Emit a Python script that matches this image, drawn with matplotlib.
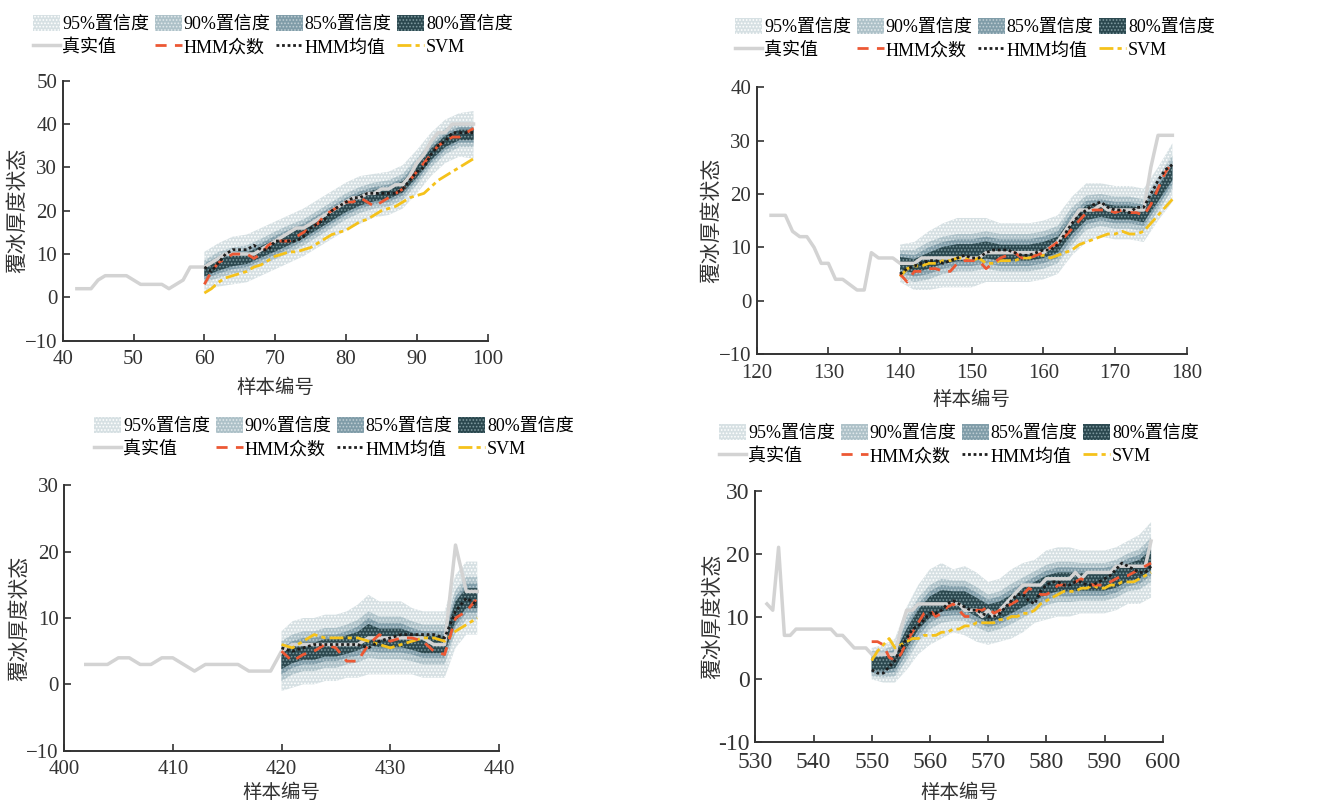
import numpy as np
import matplotlib
matplotlib.use("Agg")
import matplotlib.pyplot as plt
from matplotlib.ticker import MultipleLocator, FuncFormatter

plt.rcParams['font.family'] = ['Liberation Serif', 'Noto Sans CJK SC']
plt.rcParams['hatch.linewidth'] = 0.8

W, H = 1317, 805

# ---------------- panel 1 ----------------
p1_true_x = np.arange(42, 99)
p1_true = [2, 2, 2, 4, 5, 5, 5, 5, 4, 3, 3, 3, 3, 2, 3, 4, 7, 7, 7, 8, 9, 10, 10, 10, 10, 10, 11, 12,
           13, 14, 15, 16, 16, 17, 18, 19, 20, 21, 22, 23, 23, 24, 24, 25, 25, 26, 26, 28, 31, 33, 36,
           38, 38, 40, 40, 40, 40]
p1_x = np.arange(60, 99)
p1_mode = [3, 6, 8, 9, 10, 10, 10, 9, 10, 12, 13, 13, 13, 14, 15, 16, 17, 19, 20, 21, 22, 22, 23, 22,
           21, 22, 23, 24, 25, 27, 29, 31, 33, 35, 36, 37, 37, 38, 39]
p1_mean = [7, 6, 8, 10, 11, 11, 11, 12, 11, 11, 13, 13, 13, 13, 14, 16, 17, 18, 20, 21, 22, 23, 23, 24,
           24, 24, 24, 24, 25, 27, 29, 30, 33, 35, 36, 38, 38, 38, 38]
p1_svm = [1, 2, 3.5, 4.5, 5, 5.5, 6, 7, 7.5, 8.5, 9.5, 10, 10.5, 10.5, 11, 11.5, 12.5, 13.5, 14.5, 15,
          15.5, 16.5, 17.5, 18, 19, 20, 20.5, 21, 22, 23, 23.5, 24, 25.5, 27, 28, 29, 30, 31, 32]
p1_band_x = np.arange(60, 99, 2)
p1_mid = [6, 7.5, 8.5, 9, 10.5, 12, 13.5, 15, 17, 19, 21, 22.5, 23.5, 24, 25.5, 29, 33, 36, 37.5, 37.5]
p1_hw95 = [4.5, 5, 5.5, 5.5, 5.5, 5.5, 5.5, 5.5, 5.5, 5.5, 5.5, 5.5, 5, 5, 5, 5, 5, 5, 5, 5.5]
p1_hw90 = [2.5, 3, 3, 3, 3, 3.2, 3.2, 3, 3, 3, 3, 3, 3, 3, 3, 3, 3, 3, 2.8, 2.8]
p1_hw85 = [1.8, 2, 2, 2, 2, 2.2, 2.2, 2, 2, 2, 2, 2, 2, 2, 2, 2, 2, 2, 1.8, 1.8]
p1_hw80 = [1.2, 1.3, 1.3, 1.3, 1.3, 1.4, 1.4, 1.3, 1.3, 1.3, 1.3, 1.3, 1.3, 1.3, 1.3, 1.3, 1.3, 1.3, 1.2, 1.2]

# ---------------- panel 2 ----------------
p2_true_x = np.arange(122, 179)
p2_true = [16, 16, 16, 13, 12, 12, 10, 7, 7, 4, 4, 3, 2, 2, 9, 8, 8, 8, 7, 7, 7, 8, 8, 8, 8, 8, 8, 8,
           8, 8, 9, 9, 9, 9, 9, 9, 9, 9, 9, 10, 11, 13, 15, 17, 17, 17, 18, 17, 17, 17, 17, 17, 17, 25,
           31, 31, 31]
p2_x = np.arange(140, 179)
p2_mode = [5, 3.5, 5.5, 5.5, 6, 6, 5.5, 5.5, 7, 7.5, 7.5, 7.5, 6, 7, 8, 8.5, 9, 8, 8, 8.5, 9, 10, 11,
           12, 13.5, 15, 16.5, 17, 17, 17, 16.5, 17, 16.5, 16.5, 16, 18, 21, 24, 26]
p2_mean = [5, 6, 6.5, 7, 7.5, 7.5, 7, 7.5, 8, 8.5, 8, 8, 9, 9.5, 9.5, 9.5, 9, 8.5, 8.5, 9, 9.5, 9.5,
           10.5, 12.5, 14.5, 16, 17, 18, 18.5, 17.5, 17, 17, 16.5, 17.5, 17.5, 20, 22.5, 24.5, 25.5]
p2_svm = [4.5, 6, 6.5, 6.5, 7, 7, 7.5, 7.5, 8, 8, 7.5, 8, 7, 7, 7.5, 7.5, 7.5, 8, 8, 8.5, 8.5, 8, 8.5,
          9, 9.5, 10.5, 11, 11.5, 12, 12.5, 12.5, 13, 12.5, 12.5, 13, 14.5, 16, 17.5, 19]
p2_band_x = np.arange(140, 179, 2)
p2_mid = [7, 6.5, 7.5, 8.5, 9, 9, 9.5, 9, 9, 9, 9.5, 10.5, 14, 16.5, 17, 16.5, 16.5, 16, 20, 24]
p2_hw95 = [3.5, 4.5, 5.5, 6, 6.5, 6.5, 6, 5.5, 5.5, 5.5, 5.5, 5.5, 5.5, 5.5, 5, 5, 5, 5, 5, 5.5]
p2_hw90 = [2.5, 3, 3.5, 3.5, 3.5, 3.5, 3.5, 3.5, 3.5, 3.5, 3.5, 3.5, 3.5, 3.2, 3, 3, 3, 3, 3.2, 3.2]
p2_hw85 = [1.8, 2, 2.5, 2.5, 2.5, 2.5, 2.5, 2.5, 2.5, 2.5, 2.5, 2.5, 2.5, 2.2, 2, 2, 2, 2, 2.2, 2.2]
p2_hw80 = [1.2, 1.3, 1.5, 1.6, 1.6, 1.6, 1.6, 1.5, 1.5, 1.5, 1.5, 1.5, 1.5, 1.4, 1.3, 1.3, 1.3, 1.3, 1.4, 1.4]

# ---------------- panel 3 ----------------
p3_true_x = np.arange(402, 439)
p3_true = [3, 3, 3, 4, 4, 3, 3, 4, 4, 3, 2, 3, 3, 3, 3, 2, 2, 2, 5, 6, 6, 6, 6, 6, 6, 6, 7, 7, 7, 7,
           7, 7, 6, 6, 21, 14, 14]
p3_x = np.arange(420, 439)
p3_mode = [5, 3.5, 4.5, 5, 6, 5.5, 3.5, 3.5, 6, 7.5, 6.5, 7, 7, 6.5, 5, 4.5, 10, 11, 13]
p3_mean = [5.5, 5, 5.5, 6, 6, 6, 6, 6, 5.5, 6.5, 7, 7.5, 7.5, 7.5, 7.5, 7, 11, 13, 12]
p3_svm = [6, 5.5, 6.5, 7.5, 7, 7, 7, 7, 6.5, 6, 5.5, 6, 6.5, 7, 7, 6.5, 8, 9, 10]
p3_band_x = np.arange(420, 439)
p3_mid = [3.5, 4.5, 5, 5, 5.5, 5.5, 6, 6.5, 7.5, 7, 7, 7, 6.5, 6, 6, 6, 11, 13, 13]
p3_hw95 = [4.5, 5, 5, 5, 5, 5, 5, 5.5, 6, 5.5, 5.5, 5.5, 5, 5, 5, 5, 5.5, 5.5, 5.5]
p3_hw90 = [3, 3, 3, 3, 3, 3, 3, 3.2, 3.5, 3.2, 3.2, 3.2, 3, 3, 3, 3, 3.2, 3.2, 3.2]
p3_hw85 = [2, 2, 2, 2, 2, 2, 2, 2.2, 2.5, 2.2, 2.2, 2.2, 2, 2, 2, 2, 2.2, 2.2, 2.2]
p3_hw80 = [1.2, 1.3, 1.3, 1.3, 1.3, 1.3, 1.4, 1.4, 1.6, 1.4, 1.4, 1.4, 1.3, 1.3, 1.3, 1.3, 1.5, 1.5, 1.5]

# ---------------- panel 4 ----------------
p4_true_x = np.arange(532, 599)
p4_true = [12, 11, 21, 7, 7, 8, 8, 8, 8, 8, 8, 8, 7, 7, 6, 5, 5, 5, 4, 4, 4, 4, 4, 8, 11, 11, 12, 12,
           12, 12, 12, 12, 12, 12, 11, 11, 11, 10, 11, 10, 11, 12, 13, 14, 15, 15, 15, 15, 16, 16, 16,
           16, 16, 17, 16, 17, 17, 17, 17, 17, 18, 18, 18, 18, 18, 18, 22]
p4_x = np.arange(550, 599)
p4_mode = [6, 6, 5.5, 3.5, 3, 4, 6, 7.5, 9, 10.5, 11, 10, 10.5, 11.5, 12, 11, 10, 10, 11, 11, 11.5,
           10.5, 11, 11.5, 12, 12.5, 13.5, 14.5, 14, 13.5, 13.5, 14, 15, 15, 15, 15.5, 16, 15.5, 15,
           15, 15, 15.5, 16, 16.5, 16.5, 17, 17.5, 18, 18.5]
p4_mean = [1.5, 1, 1, 2, 3, 5, 6.5, 8, 8.5, 9.5, 10.5, 10.5, 11, 12, 12.5, 12, 11.5, 11, 11, 10.5, 10,
           10, 10.5, 11.5, 12.5, 13.5, 13.5, 12.5, 12, 14, 15, 15.5, 15.5, 15, 15, 15.5, 15.5, 15, 15,
           15.5, 16, 16.5, 17.5, 18.5, 18, 17.5, 17, 17, 18]
p4_svm = [3, 4.5, 5.5, 6.5, 5, 5.5, 6, 6.5, 6.5, 7, 7, 7, 7.5, 7.5, 8, 8, 8.5, 8.5, 9, 9, 9, 9, 9.5,
          9.5, 10, 10, 10.5, 10.5, 11, 12, 12.5, 13, 13.5, 14, 14, 14, 14.5, 14.5, 15, 14.5, 14.5, 15,
          15, 15.5, 15.5, 15.5, 16, 16.5, 17]
p4_band_x = np.arange(550, 599, 2)
p4_mid = [2.5, 2.5, 3, 6.5, 9.5, 11.5, 12.5, 12.5, 12.5, 11.5, 10.5, 11, 12, 13, 14, 15, 15.5, 15.5,
          15.5, 15.5, 15.5, 16, 17, 17.5, 19]
p4_hw95 = [2.5, 3, 3.5, 5, 5.5, 6, 6, 5, 5.5, 5.5, 5, 5, 5.5, 5.5, 5, 5.5, 5.5, 5.5, 5, 5, 5, 5, 5, 5.5, 6]
p4_hw90 = [2, 2.2, 2.5, 3.5, 3.5, 3.5, 3.5, 3.2, 3.2, 3.2, 3, 3, 3.2, 3.2, 3.2, 3.2, 3.2, 3.2, 3, 3, 3,
           3, 3, 3.2, 3.5]
p4_hw85 = [1.5, 1.6, 1.8, 2.5, 2.5, 2.5, 2.5, 2.3, 2.3, 2.3, 2.2, 2.2, 2.3, 2.3, 2.3, 2.3, 2.3, 2.3,
           2.2, 2.2, 2.2, 2.2, 2.2, 2.3, 2.5]
p4_hw80 = [1, 1.1, 1.2, 1.5, 1.6, 1.7, 1.7, 1.5, 1.5, 1.5, 1.4, 1.4, 1.5, 1.5, 1.5, 1.5, 1.5, 1.5, 1.4,
           1.4, 1.4, 1.4, 1.4, 1.5, 1.6]

band_labels = ['95%置信度', '90%置信度', '85%置信度', '80%置信度']
band_colors = ['#d6e0e3', '#adc1c8', '#7f9ca8', '#2b484f']
hatch_colors = ['#ffffff', (1, 1, 1, 0.6), (1, 1, 1, 0.45), (0.62, 0.72, 0.74, 0.7)]
line_labels = ['真实值', 'HMM众数', 'HMM均值', 'SVM']

fig = plt.figure(figsize=(W / 100, H / 100), dpi=100)


def rect(l, r, t, b):
    return [l / W, 1 - b / H, (r - l) / W, (b - t) / H]


def panel(box, xlim, ylim, xstep, true_x, true_y, x, mode, mean_, svm, bx, mid, hws,
          leg_c, ylab_x, xlab_y, tick_size=15, hyphen=False):
    ax = fig.add_axes(rect(*box))
    mid = np.array(mid)
    bands = []
    for i, hw in enumerate(hws):
        hw = np.array(hw)
        b = ax.fill_between(bx, mid - hw, mid + hw, facecolor=band_colors[i],
                            edgecolor=hatch_colors[i], linewidth=0, hatch='.....',
                            label=band_labels[i], zorder=1 + i)
        bands.append(b)
    l1, = ax.plot(true_x, true_y, color='#d3d3d3', lw=2.5, zorder=6, label=line_labels[0])
    l4, = ax.plot(x, svm, color='#f5c21b', lw=2, ls=(0, (5, 1.5, 1.5, 1.5)), zorder=7, label=line_labels[3])
    l2, = ax.plot(x, mode, color='#ec5834', lw=2, ls=(0, (4, 3)), zorder=8, label=line_labels[1])
    l3, = ax.plot(x, mean_, color='#1e1e1e', lw=2, ls=(0, (1, 1)), zorder=9, label=line_labels[2])

    ax.set_xlim(*xlim)
    ax.set_ylim(*ylim)
    ax.xaxis.set_major_locator(MultipleLocator(xstep))
    ax.yaxis.set_major_locator(MultipleLocator(10))
    if hyphen:
        ax.yaxis.set_major_formatter(FuncFormatter(lambda v, p: f"{v:.0f}"))
    for s in ['top', 'right']:
        ax.spines[s].set_visible(False)
    for s in ['left', 'bottom']:
        ax.spines[s].set_color('#333333')
        ax.spines[s].set_linewidth(1.4)
    ax.tick_params(direction='in', length=5, width=1.2, colors='#333333',
                   labelsize=tick_size, pad=4)
    ax.tick_params(axis='x', pad=7)

    handles = [bands[0], l1, bands[1], l2, bands[2], l3, bands[3], l4]
    fig.legend(handles=handles, labels=[h.get_label() for h in handles], ncol=4,
               loc='center', bbox_to_anchor=(leg_c[0] / W, 1 - leg_c[1] / H),
               frameon=False, fontsize=13, handlelength=1.5, handleheight=1.0,
               handletextpad=0.1, columnspacing=0.3, labelspacing=0.3, borderpad=0)

    cx = (box[0] + box[1]) / 2
    fig.text(ylab_x / W, 1 - ((box[2] + box[3]) / 2) / H, '覆冰厚度状态', rotation=90,
             ha='center', va='center', fontsize=15, color='#333333')
    fig.text(cx / W, 1 - xlab_y / H, '样本编号', ha='center', va='center',
             fontsize=14, color='#333333')
    return ax


panel((62.7, 487.7, 80.7, 340.7), (40, 100), (-10, 50), 10, p1_true_x, p1_true,
      p1_x, p1_mode, p1_mean, p1_svm, p1_band_x, p1_mid,
      [p1_hw95, p1_hw90, p1_hw85, p1_hw80], (273, 35.5), 18.5, 388)
panel((756.7, 1186.7, 87.3, 354), (120, 180), (-10, 40), 10, p2_true_x, p2_true,
      p2_x, p2_mode, p2_mean, p2_svm, p2_band_x, p2_mid,
      [p2_hw95, p2_hw90, p2_hw85, p2_hw80], (975, 38.5), 712, 400)
panel((64, 499, 485.3, 750.7), (400, 440), (-10, 30), 10, p3_true_x, p3_true,
      p3_x, p3_mode, p3_mean, p3_svm, p3_band_x, p3_mid,
      [p3_hw95, p3_hw90, p3_hw85, p3_hw80], (334, 437.5), 20, 793)
panel((755.3, 1162.7, 490.7, 742.3), (530, 600), (-10, 30), 10, p4_true_x, p4_true,
      p4_x, p4_mode, p4_mean, p4_svm, p4_band_x, p4_mid,
      [p4_hw95, p4_hw90, p4_hw85, p4_hw80], (959, 444.5), 713.5, 793,
      tick_size=17, hyphen=True)

fig.savefig('out.png', dpi=100)
